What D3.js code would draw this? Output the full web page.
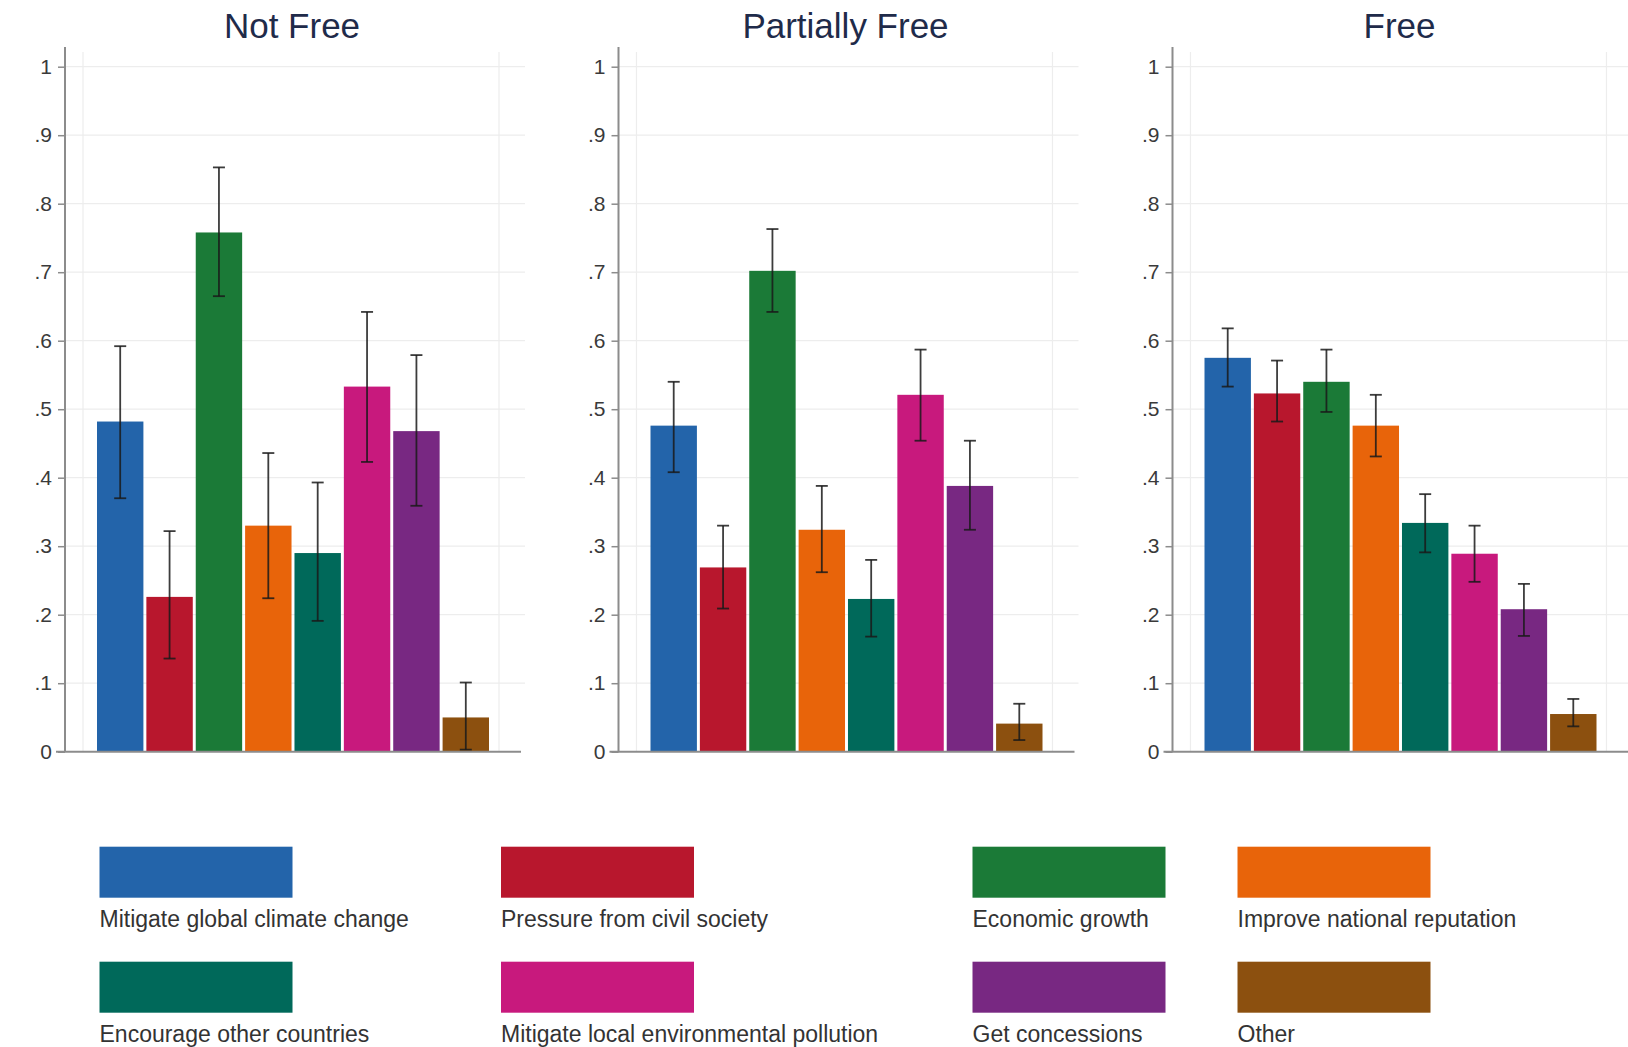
<!DOCTYPE html>
<html>
<head>
<meta charset="utf-8">
<script src="https://cdn.jsdelivr.net/npm/d3@7"></script>
<style>
  body { margin: 0; background: #fff; }
  svg { display: block; font-family: "Liberation Sans", Arial, sans-serif; }
</style>
</head>
<body>
<svg id="chart" width="1628" height="1047"></svg>
<script>
'use strict';

// data
var groups = ["Not Free", "Partially Free", "Free"];
var motives = ["Mitigate global climate change", "Pressure from civil society", "Economic growth",
  "Improve national reputation", "Encourage other countries", "Mitigate local environmental pollution",
  "Get concessions", "Other"];
var colors = ["#2364aa", "#b8172d", "#1b7a37", "#e8640a", "#00695a", "#c8197d", "#782882", "#8c500f"];

var notFree = [0.482, 0.226, 0.758, 0.330, 0.290, 0.533, 0.468, 0.050];
var notFreeLo = [0.370, 0.136, 0.665, 0.224, 0.191, 0.423, 0.359, 0.003];
var notFreeHi = [0.592, 0.322, 0.853, 0.436, 0.393, 0.642, 0.579, 0.101];

var partFree = [0.476, 0.269, 0.702, 0.324, 0.223, 0.521, 0.388, 0.041];
var partFreeLo = [0.408, 0.209, 0.642, 0.262, 0.168, 0.454, 0.324, 0.017];
var partFreeHi = [0.540, 0.330, 0.763, 0.388, 0.280, 0.587, 0.454, 0.070];

var free = [0.575, 0.523, 0.540, 0.476, 0.334, 0.289, 0.208, 0.055];
var freeLo = [0.533, 0.482, 0.496, 0.431, 0.291, 0.248, 0.169, 0.037];
var freeHi = [0.618, 0.571, 0.587, 0.521, 0.376, 0.330, 0.245, 0.077];

var yTicks = [0, 0.1, 0.2, 0.3, 0.4, 0.5, 0.6, 0.7, 0.8, 0.9, 1];

var series = [
  {name: groups[0], v: notFree, lo: notFreeLo, hi: notFreeHi},
  {name: groups[1], v: partFree, lo: partFreeLo, hi: partFreeHi},
  {name: groups[2], v: free, lo: freeLo, hi: freeHi}
];

var svg = d3.select("#chart");
var axisX = [65, 618.5, 1172.5]; // y-axis position of each panel
var yTop = 47;

var y = d3.scaleLinear().domain([0, 1]).range([751.7, 66.7]);
var x = d3.scaleBand().domain(d3.range(motives.length)).range([32, 424]).paddingInner(0.06);
var fmt = function (d) {
  if (d === 0) return "0";
  if (d === 1) return "1";
  return d3.format(".1f")(d).replace(/^0/, "");
};

series.forEach(function (s, gi) {
  var g = svg.append("g").attr("transform", "translate(" + axisX[gi] + ",0)");

  // faint grid
  g.selectAll("line.hgrid")
    .data(yTicks.slice(1))
    .enter().append("line")
    .attr("x1", 0).attr("x2", 460)
    .attr("y1", function (d) { return y(d); })
    .attr("y2", function (d) { return y(d); })
    .attr("stroke", "#ededed").attr("stroke-width", 1.2);
  [18, 434].forEach(function (vx) {
    g.append("line")
      .attr("x1", vx).attr("x2", vx).attr("y1", 52).attr("y2", y(0))
      .attr("stroke", "#ededed").attr("stroke-width", 1.2);
  });

  // bars
  g.selectAll("rect.bar")
    .data(s.v)
    .enter().append("rect")
    .attr("x", function (d, i) { return x(i); })
    .attr("width", x.bandwidth())
    .attr("y", function (d) { return y(d); })
    .attr("height", function (d) { return y(0) - y(d); })
    .attr("fill", function (d, i) { return colors[i]; });

  // error bars
  var cap = 6;
  var eb = g.selectAll("g.err")
    .data(s.v.map(function (d, i) { return {i: i, lo: s.lo[i], hi: s.hi[i]}; }))
    .enter().append("g")
    .attr("stroke", "#1a1a1a").attr("stroke-opacity", 0.85).attr("stroke-width", 1.8);
  eb.append("line")
    .attr("x1", function (d) { return x(d.i) + x.bandwidth() / 2; })
    .attr("x2", function (d) { return x(d.i) + x.bandwidth() / 2; })
    .attr("y1", function (d) { return y(d.lo); })
    .attr("y2", function (d) { return y(d.hi); });
  ["lo", "hi"].forEach(function (k) {
    eb.append("line")
      .attr("x1", function (d) { return x(d.i) + x.bandwidth() / 2 - cap; })
      .attr("x2", function (d) { return x(d.i) + x.bandwidth() / 2 + cap; })
      .attr("y1", function (d) { return y(d[k]); })
      .attr("y2", function (d) { return y(d[k]); });
  });

  // axes
  g.append("line")
    .attr("x1", 0).attr("x2", 0).attr("y1", yTop).attr("y2", y(0))
    .attr("stroke", "#8c8c8c").attr("stroke-width", 2);
  g.append("line")
    .attr("x1", -9).attr("x2", 456).attr("y1", y(0)).attr("y2", y(0))
    .attr("stroke", "#8c8c8c").attr("stroke-width", 2);

  var ax = g.append("g")
    .call(d3.axisLeft(y).tickValues(yTicks).tickFormat(fmt).tickSize(7).tickPadding(6));
  ax.select(".domain").remove();
  ax.selectAll(".tick line").attr("stroke", "#8c8c8c").attr("stroke-width", 1.5);
  ax.selectAll(".tick text")
    .attr("fill", "#3a3a3a")
    .style("font-size", "21px")
    .style("font-family", "'Liberation Sans', Arial, sans-serif");

  // title
  g.append("text")
    .attr("x", 227).attr("y", 38)
    .attr("text-anchor", "middle")
    .attr("fill", "#1f2b4a")
    .style("font-size", "35px")
    .text(s.name);
});

// legend
var legCols = [99.5, 501, 972.5, 1237.5];
var legRows = [846.7, 961.7];
var leg = svg.selectAll("g.leg")
  .data(motives)
  .enter().append("g")
  .attr("transform", function (d, i) {
    return "translate(" + legCols[i % 4] + "," + legRows[Math.floor(i / 4)] + ")";
  });
leg.append("rect")
  .attr("width", 193).attr("height", 51)
  .attr("fill", function (d, i) { return colors[i]; });
leg.append("text")
  .attr("x", 0).attr("y", 80)
  .attr("fill", "#333")
  .style("font-size", "23px")
  .text(function (d) { return d; });
</script>
</body>
</html>
